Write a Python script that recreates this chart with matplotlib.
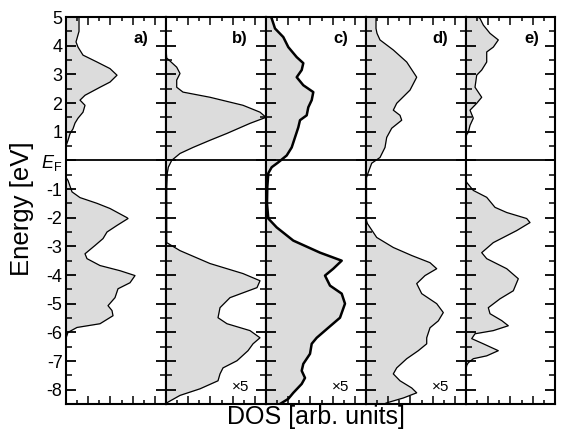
import numpy as np
import matplotlib
matplotlib.use("Agg")
import matplotlib.pyplot as plt
from matplotlib.ticker import MultipleLocator, FixedLocator

plt.rcParams['font.family'] = ['Liberation Sans', 'DejaVu Sans']
plt.rcParams['mathtext.fontset'] = 'custom'
plt.rcParams['mathtext.rm'] = 'Liberation Sans'
plt.rcParams['mathtext.it'] = 'Liberation Sans:italic'
plt.rcParams['axes.unicode_minus'] = False

# ---------------- data (energy in eV, DOS in arb. units) ----------------
a_E = [5.0, 4.9, 4.5, 4.13, 3.95, 3.67, 3.43, 3.2, 2.97, 2.73, 2.55, 2.27, 2.1, 1.92, 1.68,
       1.47, 1.3, 1.1, 0.93, 0.7, 0.5, 0.0, -0.6, -0.7, -1.1, -1.3, -1.5, -1.68, -2.0, -2.03,
       -2.27, -2.5, -2.73, -2.97, -3.26, -3.43, -3.67, -3.85, -4.02, -4.27, -4.48, -4.79,
       -5.07, -5.24, -5.42, -5.7, -5.83, -6.0, -6.2, -8.5]
a_D = [13, 13, 13, 10, 12, 17, 31, 44, 51, 44, 34, 19, 14, 19, 17,
       12, 9, 7, 4, 2, 0, 0, 0, 2, 6, 14, 31, 44, 61, 62,
       51, 41, 37, 29, 19, 21, 34, 54, 69, 64, 52, 49,
       42, 46, 47, 34, 11, 2, 0, 0]

b_E = [5.0, 3.9, 3.57, 3.25, 3.03, 2.8, 2.55, 2.38, 2.2, 1.92, 1.68, 1.5, 1.29, 0.94, 0.7,
       0.45, 0.24, 0.0, -0.24, -0.45, -1.0, -2.7, -2.87, -3.15, -3.6, -3.95, -4.2, -4.44,
       -4.79, -5.14, -5.49, -5.7, -5.94, -6.19, -6.4, -6.64, -6.99, -7.24, -7.45, -7.69,
       -7.97, -8.2, -8.46, -8.5]
b_D = [0, 0, 0.7, 10.7, 14, 10.7, 10.7, 17, 44, 77, 94, 100, 84, 61, 44,
       27, 14, 5.7, 2.3, 1.3, 0.7, 0.7, 0.7, 14, 44, 77, 94, 91,
       64, 54, 52, 61, 84, 94, 87, 82, 71, 57, 54, 52,
       34, 14, 0.7, 0]

c_E = [5.0, 4.95, 4.6, 4.3, 3.95, 3.6, 3.39, 3.15, 2.9, 2.62, 2.38, 2.1, 1.85, 1.57, 1.4,
       1.15, 0.8, 0.45, 0.17, -0.07, -0.24, -0.45, -0.94, -1.5, -2.03, -2.34, -2.8, -3.22,
       -3.5, -3.78, -4.02, -4.37, -4.65, -5.0, -5.49, -5.84, -6.19, -6.4, -6.75, -7.1,
       -7.34, -7.59, -7.8, -8.11, -8.32, -8.5]
c_D = [5.0, 5.7, 9, 17.3, 22.3, 30.7, 37.3, 35.7, 30.7, 37.3, 47.3, 45.7, 42.3, 40.7, 34,
       32.3, 29, 25.7, 20.7, 12.3, 5.7, 2.3, 1.3, 1.0, 2.3, 10.7, 27.3, 54,
       75.7, 67.3, 59, 64, 75.7, 79, 74, 62.3, 50.7, 45.7, 44, 37.3,
       35.7, 39, 35.7, 27.3, 22.3, 14]

d_E = [5.0, 4.6, 4.43, 4.2, 3.85, 3.43, 2.9, 2.45, 1.99, 1.75, 1.57, 1.4, 1.12, 0.8, 0.45,
       0.1, -0.1, -0.42, -0.6, -2.1, -2.2, -2.69, -3.04, -3.32, -3.57, -3.78, -4.02, -4.3,
       -4.65, -5.0, -5.31, -5.6, -5.84, -6.19, -6.4, -6.64, -6.92, -7.24, -7.45, -7.69,
       -7.94, -8.11, -8.29, -8.46, -8.5]
d_D = [10, 10, 11, 14, 27.3, 40.7, 50.7, 44, 30.7, 27.3, 34, 35.7, 25.7, 20.7, 19,
       14, 5.7, 2.3, 0.5, 0.5, 1.3, 10.7, 27.3, 45.7, 64, 70.7, 59, 50.7,
       55.7, 70.7, 77.3, 72.3, 64, 60.7, 60.7, 52.3, 40.7, 30.7, 27.3, 34,
       45.7, 50.7, 37.3, 20.7, 18]

e_E = [5.0, 4.95, 4.72, 4.43, 4.2, 3.95, 3.78, 3.43, 3.15, 2.97, 2.55, 2.2, 1.99, 1.75, 1.47,
       1.22, 0.98, 0.9, 0.8, -0.7, -0.77, -1.05, -1.29, -1.64, -1.82, -2.03, -2.17, -2.45,
       -2.87, -3.22, -3.43, -3.78, -4.13, -4.55, -4.83, -5.14, -5.35, -5.59, -5.77, -5.94,
       -6.05, -6.22, -6.4, -6.64, -6.82, -6.92, -7.06, -7.15, -7.3, -8.5]
e_D = [12, 14, 17.3, 24, 32.3, 27.3, 20.7, 20.7, 15.7, 10.7, 9, 15.7, 10.7, 4, 7.3,
       4, 2.3, 0.7, 0, 0, 0.7, 7.3, 20.7, 29, 40.7, 60.7, 64, 50.7,
       27.3, 15.7, 20.7, 40.7, 52.3, 47.3, 34, 22.3, 24, 35.7, 42.3, 27.3,
       9, 5.7, 17.3, 32.3, 20.7, 7.3, 2.3, 0.7, 0, 0]

panel_labels = ['a)', 'b)', 'c)', 'd)', 'e)']
scale_labels = ['', '\u00d75', '\u00d75', '\u00d75', '']
y_ticks = [5, 4, 3, 2, 1, 0, -1, -2, -3, -4, -5, -6, -7, -8]
y_ticklabels = ['5', '4', '3', '2', '1', '$E_\\mathrm{F}$', '-1', '-2', '-3', '-4',
                '-5', '-6', '-7', '-8']

series = [(a_E, a_D), (b_E, b_D), (c_E, c_D), (d_E, d_D), (e_E, e_D)]
line_w = [0.9, 0.9, 1.8, 0.9, 0.9]

# ---------------- layout ----------------
W, H = 566, 432
fig = plt.figure(figsize=(W / 100, H / 100), dpi=100)
lefts = [66, 166, 266, 366, 466]
widths = [100, 100, 100, 100, 89]
top_px, bot_px = 17, 404
unit = 100 / 9.0

for i, (E, D) in enumerate(series):
    ax = fig.add_axes([lefts[i] / W, 1 - bot_px / H, widths[i] / W, (bot_px - top_px) / H])
    ax.fill_betweenx(E, 0, D, color='#dcdcdc', lw=0, zorder=1)
    ax.plot(D, E, color='black', lw=line_w[i], zorder=3, solid_joinstyle='round')
    ax.axhline(0, color='black', lw=1.3, zorder=4)
    ax.set_ylim(-8.5, 5)
    ax.set_xlim(0, widths[i])
    # ticks
    ax.yaxis.set_major_locator(FixedLocator(y_ticks))
    ax.yaxis.set_minor_locator(MultipleLocator(0.5))
    nmax = int(round(widths[i] / unit))
    ax.xaxis.set_major_locator(FixedLocator([k * unit for k in range(0, nmax + 1, 2)]))
    ax.xaxis.set_minor_locator(FixedLocator([k * unit for k in range(1, nmax + 1, 2)]))
    ax.tick_params(axis='y', which='major', direction='in', left=True, right=True,
                   length=7.5, width=1.3)
    ax.tick_params(axis='y', which='minor', direction='in', left=True, right=True,
                   length=4, width=1.1)
    ax.tick_params(axis='x', which='major', direction='in', top=True, bottom=True,
                   length=6, width=1.1, labelbottom=False)
    ax.tick_params(axis='x', which='minor', direction='in', top=True, bottom=True,
                   length=3, width=1.1)
    for sp in ax.spines.values():
        sp.set_linewidth(1.5)
    if i == 0:
        ax.set_yticklabels(y_ticklabels, fontsize=13)
        ax.tick_params(axis='y', which='major', pad=2.5)
    else:
        ax.tick_params(axis='y', labelleft=False)
    ax.text(0.82, 4.25, panel_labels[i], transform=ax.get_yaxis_transform(),
            ha='right', va='center', fontsize=12, fontweight='bold')
    if scale_labels[i]:
        ax.text(0.83, -7.92, scale_labels[i], transform=ax.get_yaxis_transform(),
                ha='right', va='center', fontsize=11)

fig.text(22 / W, 1 - 209 / H, 'Energy [eV]', rotation=90, ha='center', va='center',
         fontsize=18.5)
fig.text(316 / W, 1 - 417 / H, 'DOS [arb. units]', ha='center', va='center', fontsize=18)

fig.savefig('out.png', dpi=100)
